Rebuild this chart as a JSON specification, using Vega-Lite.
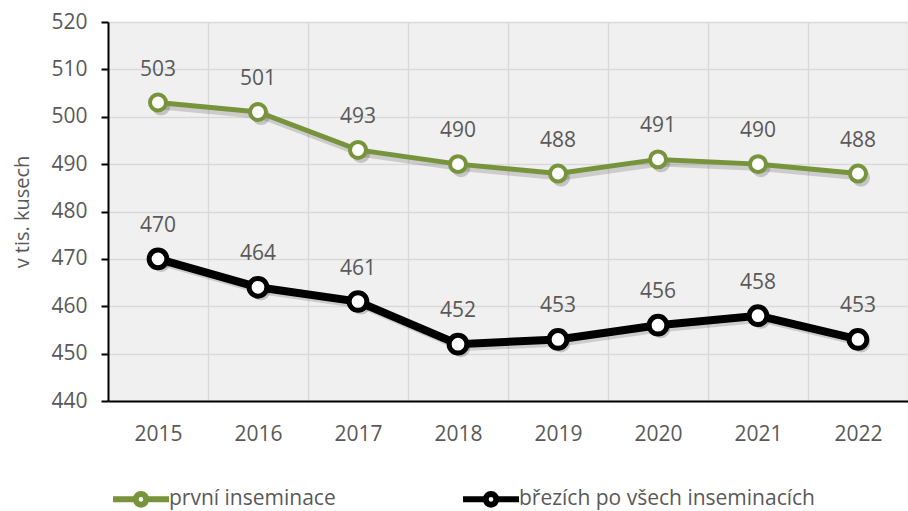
{
  "$schema": "https://vega.github.io/schema/vega-lite/v6.json",
  "autosize": {"type": "none"},
  "width": 800,
  "height": 379,
  "padding": {"left": 108, "top": 22, "right": 0, "bottom": 110},
  "background": "white",
  "config": {
    "font": "Open Sans",
    "view": {"fill": "#f0f0f0", "stroke": null},
    "axis": {"labelColor": "#595959", "labelFontSize": 21, "gridColor": "#d9d9d9", "gridWidth": 1.5, "domainColor": "#000000", "domainWidth": 2, "tickColor": "#000000", "tickWidth": 2}
  },
  "data": {
    "values": [
      {"year": "2015", "s": "první inseminace", "v": 503},
      {"year": "2016", "s": "první inseminace", "v": 501},
      {"year": "2017", "s": "první inseminace", "v": 493},
      {"year": "2018", "s": "první inseminace", "v": 490},
      {"year": "2019", "s": "první inseminace", "v": 488},
      {"year": "2020", "s": "první inseminace", "v": 491},
      {"year": "2021", "s": "první inseminace", "v": 490},
      {"year": "2022", "s": "první inseminace", "v": 488},
      {"year": "2015", "s": "březích po všech inseminacích", "v": 470},
      {"year": "2016", "s": "březích po všech inseminacích", "v": 464},
      {"year": "2017", "s": "březích po všech inseminacích", "v": 461},
      {"year": "2018", "s": "březích po všech inseminacích", "v": 452},
      {"year": "2019", "s": "březích po všech inseminacích", "v": 453},
      {"year": "2020", "s": "březích po všech inseminacích", "v": 456},
      {"year": "2021", "s": "březích po všech inseminacích", "v": 458},
      {"year": "2022", "s": "březích po všech inseminacích", "v": 453}
    ]
  },
  "encoding": {
    "x": {
      "field": "year", "type": "ordinal", "bandPosition": 0.5,
      "scale": {"type": "band", "paddingInner": 0, "paddingOuter": 0},
      "axis": {"title": null, "labelAngle": 0, "ticks": false, "tickBand": "extent", "grid": true, "labelPadding": 22}
    },
    "y": {
      "field": "v", "type": "quantitative",
      "scale": {"domain": [440, 520], "nice": false, "zero": false},
      "axis": {"title": "v tis. kusech", "titleFontSize": 20, "titleFontWeight": "normal", "titleColor": "#595959", "titlePadding": 18, "values": [440, 450, 460, 470, 480, 490, 500, 510, 520], "tickSize": 7, "labelPadding": 14, "grid": true}
    }
  },
  "layer": [
    {
      "mark": {"type": "line", "strokeWidth": 6, "color": "#000000", "opacity": 0.15, "xOffset": 3, "yOffset": 4},
      "encoding": {"detail": {"field": "s", "type": "nominal"}}
    },
    {
      "mark": {"type": "point", "shape": "circle", "filled": true, "color": "#000000", "opacity": 0.18, "size": 330, "xOffset": 3, "yOffset": 4},
      "encoding": {}
    },
    {
      "transform": [{"filter": "datum.s === 'první inseminace'"}],
      "mark": {"type": "line", "strokeWidth": 5},
      "encoding": {
        "stroke": {
          "field": "s", "type": "nominal",
          "scale": {"domain": ["první inseminace", "březích po všech inseminacích"], "range": ["#77933C", "#000000"]},
          "legend": {
            "title": null, "orient": "none", "legendX": 2, "legendY": 446, "direction": "horizontal", "padding": 0,
            "symbolType": "M-1,0H-0.19M0.19,0H1M0.19,0A0.19,0.19,0,1,1,-0.19,0A0.19,0.19,0,1,1,0.19,0Z",
            "symbolSize": 3136, "symbolStrokeWidth": 6, "symbolFillColor": "white",
            "labelFontSize": 21, "labelColor": "#595959", "labelOffset": -3, "columnPadding": 115,
            "labelLimit": 400,
            "encode": {"symbols": {"update": {"fill": {"value": "white"}}}}
          }
        }
      }
    },
    {
      "transform": [{"filter": "datum.s !== 'první inseminace'"}],
      "mark": {"type": "line", "strokeWidth": 8},
      "encoding": {"stroke": {"field": "s", "type": "nominal"}}
    },
    {
      "transform": [{"filter": "datum.s === 'první inseminace'"}],
      "mark": {"type": "point", "shape": "circle", "filled": false, "fill": "white", "fillOpacity": 1, "opacity": 1, "size": 255, "strokeWidth": 4},
      "encoding": {"stroke": {"field": "s", "type": "nominal"}}
    },
    {
      "transform": [{"filter": "datum.s !== 'první inseminace'"}],
      "mark": {"type": "point", "shape": "circle", "filled": false, "fill": "white", "fillOpacity": 1, "opacity": 1, "size": 314, "strokeWidth": 5},
      "encoding": {"stroke": {"field": "s", "type": "nominal"}}
    },
    {
      "mark": {"type": "text", "dy": -33, "fontSize": 21, "color": "#595959"},
      "encoding": {"text": {"field": "v", "type": "quantitative"}}
    }
  ]
}
